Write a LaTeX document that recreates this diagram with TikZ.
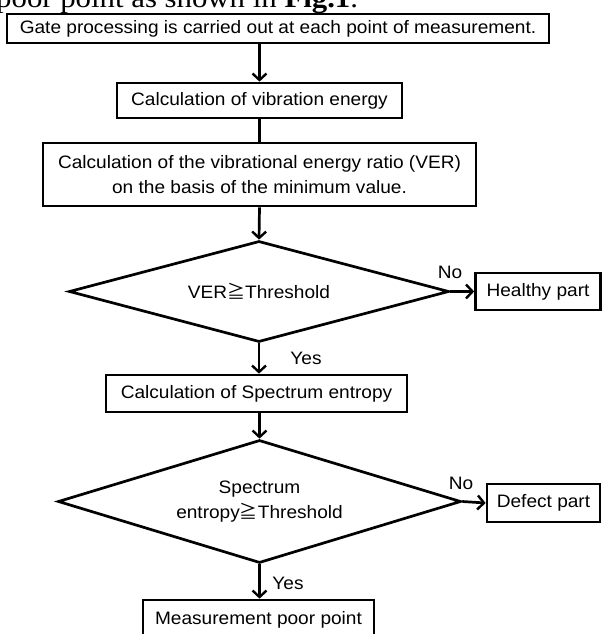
\documentclass[tikz,border=0pt]{standalone}
\usepackage{fontspec}
\setmainfont[FakeStretch=1.06]{Liberation Sans}
\newfontfamily\cjkfont{Noto Sans CJK JP}
\newfontfamily\seriffont[FakeStretch=1.1]{Liberation Serif}
\usetikzlibrary{shapes.geometric,arrows.meta}
\newcommand{\mygeqq}{{\cjkfont ≧}}
\begin{document}
\begin{tikzpicture}[x=1pt,y=-1pt,
  every node/.style={font=\fontsize{18}{25}\selectfont},
  box/.style={draw, line width=2.7pt, inner sep=0pt, align=center},
  dec/.style={draw, diamond, line width=2.7pt, inner sep=0pt, align=center},
  arr/.style={line width=2.7pt, -{Straight Barb[length=6.5pt,width=14pt,line width=2.4pt]}},
  lin/.style={line width=2.7pt},
  lbl/.style={inner sep=0pt}
]
\useasboundingbox (0,0) rectangle (603,634);
\node[anchor=base west, inner sep=0pt, font=\seriffont\fontsize{28}{28}\selectfont] (hdr) at (-4,8) {poor point as shown in \textbf{Fig.1}.};

\node[box, minimum width=542, minimum height=29] (b1) at (278,28.5) {Gate processing is carried out at each point of measurement.};
\node[box, minimum width=285, minimum height=35] (b2) at (259.5,100.5) {Calculation of vibration energy};
\node[box, minimum width=433, minimum height=63] (b3) at (259.5,174.5) {Calculation of the vibrational energy ratio (VER)\\on the basis of the minimum value.};
\node[dec, minimum width=380, minimum height=101, aspect=3.76] (d1) at (259,291.5) {VER\mygeqq Threshold};
\node[box, minimum width=125, minimum height=37] (h) at (538,291.5) {Healthy part};
\node[box, minimum width=301, minimum height=37] (b4) at (256.5,393.5) {Calculation of Spectrum entropy};
\node[dec, minimum width=403, minimum height=123, aspect=3.28] (d2) at (259.5,501.5) {Spectrum\\entropy\mygeqq Threshold};
\node[box, minimum width=113, minimum height=38] (def) at (543.5,503) {Defect part};
\node[box, minimum width=231, minimum height=40] (b5) at (258.5,620) {Measurement poor point};

\node[lbl] (no1) at (450,272) {No};
\node[lbl] (yes1) at (306,358) {Yes};
\node[lbl] (no2) at (461,483) {No};
\node[lbl] (yes2) at (288,583) {Yes};

\draw[arr] (b2.north |- b1.south) -- (b2.north);
\draw[lin] (b2.south) -- (b3.north);
\draw[arr] (b3.south) -- (d1.north);
\draw[arr] (d1.east) -- (h.west);
\draw[arr] (d1.south) -- (d1.south |- b4.north);
\draw[arr] (d2.north |- b4.south) -- (d2.north);
\draw[arr] (d2.east) -- (def.west);
\draw[arr] (d2.south) -- (d2.south |- b5.north);
\end{tikzpicture}
\end{document}
